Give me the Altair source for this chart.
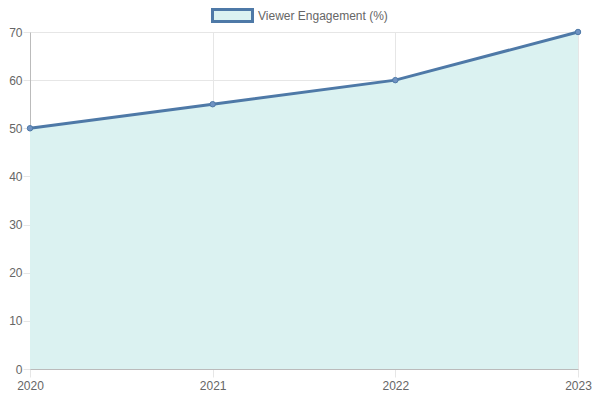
import altair as alt
import pandas as pd

years = [2020, 2021, 2022, 2023]
engagement = [50, 55, 60, 70]
series_name = "Viewer Engagement (%)"

data = pd.DataFrame({"year": years, "value": engagement, "series": [series_name] * len(years)})

LINE = "#4e79a7"
FILL = "#dbf2f1"
GRID = "#e6e6e6"
TXT = "#666666"

x = alt.X("year:Q", scale=alt.Scale(domain=[2020, 2023], nice=False, zero=False),
          axis=alt.Axis(values=years, format="d", title=None, grid=True, gridColor=GRID,
                        tickColor=GRID, tickSize=8, domainColor="#bbbbbb",
                        labelColor=TXT, labelFontSize=12, labelPadding=3,
                        labelFlush=False))
y = alt.Y("value:Q", scale=alt.Scale(domain=[0, 70], nice=False),
          axis=alt.Axis(values=list(range(0, 71, 10)), title=None, grid=True, gridColor=GRID,
                        tickColor=GRID, tickSize=7, domainColor="#bbbbbb",
                        labelColor=TXT, labelFontSize=12, labelPadding=1))

legend = alt.Legend(title=None, orient="none", legendX=181, legendY=-38,
                    symbolType="M-1,-0.3L1,-0.3L1,0.3L-1,0.3Z",
                    symbolSize=1600, symbolStrokeWidth=3, symbolStrokeColor=LINE,
                    symbolFillColor=FILL, symbolOpacity=1, labelOffset=4,
                    labelColor=TXT, labelFontSize=12, labelFont="Liberation Sans")

base = alt.Chart(data)

area = base.mark_area(opacity=1).encode(
    x=x, y=y,
    fill=alt.Fill("series:N", scale=alt.Scale(range=[FILL]), legend=legend),
)
line = base.mark_line(strokeWidth=3, color=LINE).encode(x=x, y=y)
pts = base.mark_point(filled=True, size=30, color="#6f92c2", stroke=LINE, strokeWidth=1, opacity=1).encode(
    x=x, y=y,
)

chart = (area + line + pts).properties(
    width=548, height=337,
    autosize=alt.AutoSizeParams(type="none"),
    padding={"left": 22, "top": 24, "right": 14, "bottom": 28},
).configure(font="Liberation Sans").configure_view(stroke=None)

chart.save("out.html", embed_options={"renderer": "svg", "actions": False})
